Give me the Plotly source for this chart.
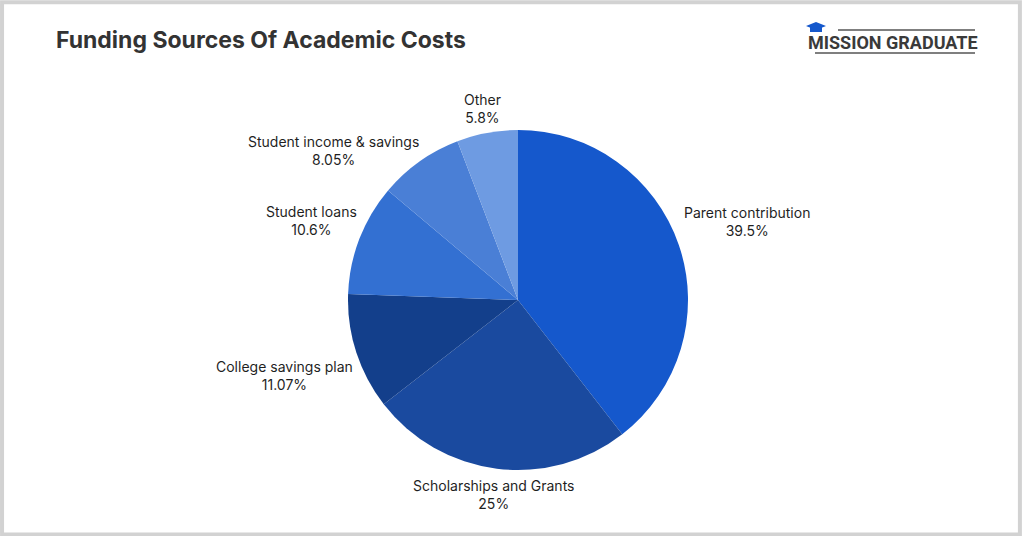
import math
import plotly.graph_objects as go

labels = ["Parent contribution", "Scholarships and Grants", "College savings plan",
          "Student loans", "Student income & savings", "Other"]
values = [39.5, 25, 11.07, 10.6, 8.05, 5.8]
value_text = ["39.5%", "25%", "11.07%", "10.6%", "8.05%", "5.8%"]
colors = ["#1558cc", "#1a4a9f", "#133f8b", "#3370d2", "#4a7fd6", "#6e9be2"]

W, H = 1024, 536
cx, cy, r = 518, 300, 170
FONT = "Inter, Lato, sans-serif"

fig = go.Figure()
fig.add_trace(go.Pie(
    labels=labels, values=values, text=value_text,
    sort=False, direction="clockwise", rotation=0,
    marker=dict(colors=colors, line=dict(width=0)),
    textinfo="none", hoverinfo="label+text",
    showlegend=False,
    domain=dict(x=[(cx - r) / W, (cx + r) / W], y=[(H - cy - r) / H, (H - cy + r) / H]),
))


def label_box(angle, half_w, half_h=18):
    s, c = math.sin(angle), math.cos(angle)
    d = r + 7 + s * s * half_w + c * c * half_h
    return cx + d * s, cy - d * c


# labels sit just outside the pie along each slice's mid angle;
# walk backwards and rotate a label away if it crowds the next one
total = sum(values)
mids, start = [], 0.0
for val in values:
    mids.append((start + val / 2) / total * 2 * math.pi)
    start += val
half_ws = [max(len(l), len(t)) * 7.4 / 2 for l, t in zip(labels, value_text)]
pos = [label_box(a, hw) for a, hw in zip(mids, half_ws)]
for i in range(len(labels) - 2, 0, -1):
    nx, ny = pos[i + 1]
    ang = mids[i]
    while True:
        x, y = label_box(ang, half_ws[i])
        gap_x = abs(x - nx) - half_ws[i] - half_ws[i + 1]
        gap_y = abs(y - ny) - 36
        if gap_x > 40 or gap_y > 10:
            break
        ang -= math.radians(0.5)
    pos[i] = (x, y)

for lab, txt, (px, py) in zip(labels, value_text, pos):
    fig.add_annotation(
        text=f"{lab}<br>{txt}", xref="paper", yref="paper",
        x=px / W, y=1 - py / H, xanchor="center", yanchor="middle",
        showarrow=False, align="center",
        font=dict(family=FONT, size=14, color="#1f1f1f"),
    )

fig.update_layout(
    width=W, height=H,
    margin=dict(l=0, r=0, t=0, b=0),
    paper_bgcolor="white",
    font=dict(family=FONT),
)

fig.add_annotation(
    text="<b>Funding Sources Of Academic Costs</b>",
    xref="paper", yref="paper", x=54 / W, y=1 - 40 / H,
    xanchor="left", yanchor="middle", showarrow=False,
    font=dict(size=23, color="#333333", family=FONT),
)

# logo
fig.add_annotation(
    text="<b>MISSION GRADUATE</b>",
    xref="paper", yref="paper", x=893 / W, y=1 - 42 / H,
    xanchor="center", yanchor="middle", showarrow=False,
    font=dict(size=18, color="#3a3a3a", family="Roboto, sans-serif"),
)
fig.add_shape(type="line", xref="paper", yref="paper",
              x0=838 / W, x1=975 / W, y0=1 - 30 / H, y1=1 - 30 / H,
              line=dict(color="#555555", width=1.5))
fig.add_shape(type="line", xref="paper", yref="paper",
              x0=815 / W, x1=975 / W, y0=1 - 53 / H, y1=1 - 53 / H,
              line=dict(color="#555555", width=1.5))
fig.add_shape(type="path", xref="paper", yref="paper",
              path=f"M {806/W} {1-26/H} L {816/W} {1-22/H} L {826/W} {1-26/H} L {816/W} {1-30/H} Z",
              fillcolor="#1558cc", line=dict(width=0))
fig.add_shape(type="rect", xref="paper", yref="paper",
              x0=810 / W, x1=822 / W, y0=1 - 32 / H, y1=1 - 27 / H,
              fillcolor="#1558cc", line=dict(width=0))

# frame
fig.add_shape(type="rect", xref="paper", yref="paper",
              x0=0.002, x1=0.996, y0=0.003, y1=0.996,
              line=dict(color="#d2d2d2", width=4))

fig.write_html("out.html", config={"displayModeBar": False}, post_script=(
    "document.body.style.margin='0';"
    "document.body.style.overflow='hidden';"))
